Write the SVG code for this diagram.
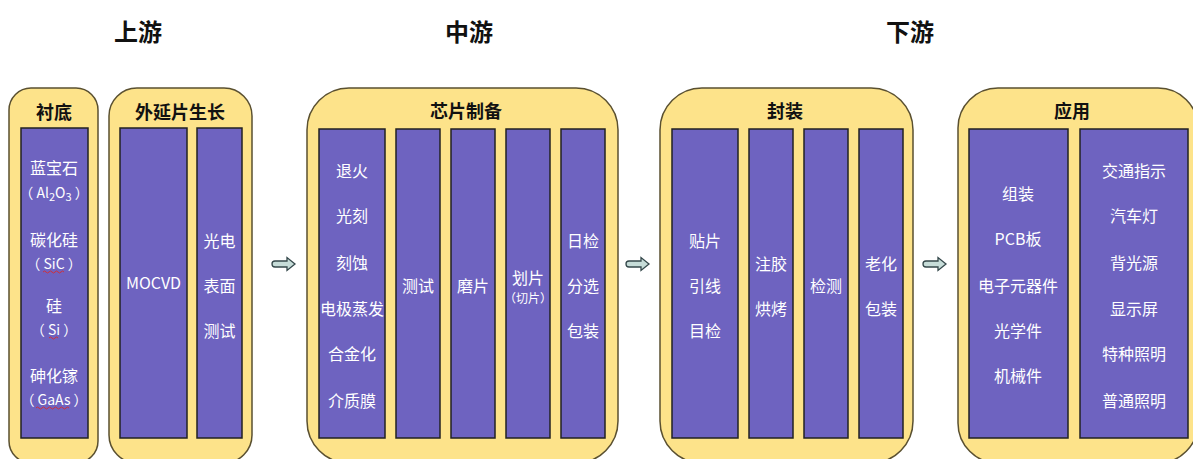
<svg xmlns="http://www.w3.org/2000/svg" width="1193" height="459" viewBox="0 0 1193 459">
<style>
.box{fill:#fde38a;stroke:#5a5030;stroke-width:1.5}
.col{fill:#6e63c0;stroke:#222;stroke-width:1.5}
.t{font-family:"Noto Sans CJK SC","Liberation Sans",sans-serif;font-size:16px;fill:#fff;text-anchor:middle;dominant-baseline:central}
.p{font-size:14px}
.s{font-size:12px}
.h{font-family:"Noto Sans CJK SC","Liberation Sans",sans-serif;font-size:18px;font-weight:bold;fill:#111;text-anchor:middle;dominant-baseline:central}
.top{font-family:"Noto Sans CJK SC","Liberation Serif",serif;font-size:24px;font-weight:bold;fill:#111;text-anchor:middle;dominant-baseline:central}
.arr{fill:#c6dcd8;stroke:#34474a;stroke-width:1.3}
.wav{fill:none;stroke:#d0303a;stroke-width:1}
</style>
<rect width="1193" height="459" fill="#fff"/>
<g id="headings">
<text class="top" x="138" y="30">上游</text>
<text class="top" x="469" y="30">中游</text>
<text class="top" x="910" y="30">下游</text>
</g>
<g id="substrate">
<rect class="box" x="9" y="88" width="89" height="375" rx="22"/>
<text class="h" x="54" y="111">衬底</text>
<rect class="col" x="21" y="128" width="67" height="310"/>
<text class="t" x="54" y="167">蓝宝石</text>
<text class="t p" x="54" y="192">（ Al<tspan dy="4" font-size="11">2</tspan><tspan dy="-4">O</tspan><tspan dy="4" font-size="11">3</tspan><tspan dy="-4"> ）</tspan></text>
<text class="t" x="54" y="239">碳化硅</text>
<text class="t p" x="54" y="263">（ SiC ）</text>
<path class="wav" d="M43 272 q1.5 -2 3 0 t3 0 t3 0 t3 0 t3 0 t3 0 t3 0"/>
<text class="t" x="54" y="305">硅</text>
<text class="t p" x="54" y="329">（ Si ）</text>
<path class="wav" d="M49 338 q1.5 -2 3 0 t3 0 t3 0"/>
<text class="t" x="54" y="375">砷化镓</text>
<text class="t p" x="54" y="399">（ GaAs ）</text>
<path class="wav" d="M36 408 q1.5 -2 3 0 t3 0 t3 0 t3 0 t3 0 t3 0 t3 0 t3 0 t3 0 t3 0 t3 0"/>
</g>
<g id="epitaxy">
<rect class="box" x="109" y="88" width="143" height="375" rx="28"/>
<text class="h" x="180" y="111">外延片生长</text>
<rect class="col" x="120" y="128" width="67" height="310"/>
<text class="t" x="153.5" y="282">MOCVD</text>
<rect class="col" x="197" y="128" width="45" height="310"/>
<text class="t" x="219.5" y="240">光电</text>
<text class="t" x="219.5" y="285">表面</text>
<text class="t" x="219.5" y="330">测试</text>
</g>
<g id="chip">
<rect class="box" x="307" y="88" width="311" height="375" rx="42"/>
<text class="h" x="466" y="110">芯片制备</text>
<rect class="col" x="319" y="129" width="66" height="309"/>
<text class="t" x="352" y="170">退火</text>
<text class="t" x="352" y="215">光刻</text>
<text class="t" x="352" y="262">刻蚀</text>
<text class="t" x="352" y="308">电极蒸发</text>
<text class="t" x="352" y="353">合金化</text>
<text class="t" x="352" y="400">介质膜</text>
<rect class="col" x="396" y="129" width="44" height="309"/>
<text class="t" x="418" y="285">测试</text>
<rect class="col" x="451" y="129" width="44" height="309"/>
<text class="t" x="473" y="285">磨片</text>
<rect class="col" x="506" y="129" width="44" height="309"/>
<text class="t" x="528" y="277">划片</text>
<text class="t s" x="528" y="297">（切片）</text>
<rect class="col" x="561" y="129" width="44" height="309"/>
<text class="t" x="583" y="240">日检</text>
<text class="t" x="583" y="285">分选</text>
<text class="t" x="583" y="330">包装</text>
</g>
<g id="package">
<rect class="box" x="660" y="88" width="253" height="375" rx="42"/>
<text class="h" x="785" y="110">封装</text>
<rect class="col" x="672" y="129" width="66" height="309"/>
<text class="t" x="705" y="240">贴片</text>
<text class="t" x="705" y="285">引线</text>
<text class="t" x="705" y="330">目检</text>
<rect class="col" x="749" y="129" width="44" height="309"/>
<text class="t" x="771" y="263">注胶</text>
<text class="t" x="771" y="308">烘烤</text>
<rect class="col" x="804" y="129" width="44" height="309"/>
<text class="t" x="826" y="285">检测</text>
<rect class="col" x="859" y="129" width="44" height="309"/>
<text class="t" x="881" y="263">老化</text>
<text class="t" x="881" y="308">包装</text>
</g>
<g id="application">
<rect class="box" x="958" y="88" width="240" height="375" rx="40"/>
<text class="h" x="1072" y="110">应用</text>
<rect class="col" x="969" y="129" width="99" height="309"/>
<text class="t" x="1018" y="193">组装</text>
<text class="t" x="1018" y="238">PCB板</text>
<text class="t" x="1018" y="285">电子元器件</text>
<text class="t" x="1018" y="330">光学件</text>
<text class="t" x="1018" y="375">机械件</text>
<rect class="col" x="1080" y="129" width="108" height="309"/>
<text class="t" x="1134" y="170">交通指示</text>
<text class="t" x="1134" y="215">汽车灯</text>
<text class="t" x="1134" y="262">背光源</text>
<text class="t" x="1134" y="308">显示屏</text>
<text class="t" x="1134" y="353">特种照明</text>
<text class="t" x="1134" y="400">普通照明</text>
</g>
<g id="connectors">
<path class="arr" d="M275 261 h12 v-3.5 l8 6.5 l-8 6.5 v-3.5 h-12 a3 3 0 0 1 0 -6 z"/>
<path class="arr" d="M629 261 h12 v-3.5 l8 6.5 l-8 6.5 v-3.5 h-12 a3 3 0 0 1 0 -6 z"/>
<path class="arr" d="M926 261 h12 v-3.5 l8 6.5 l-8 6.5 v-3.5 h-12 a3 3 0 0 1 0 -6 z"/>
</g>
</svg>
